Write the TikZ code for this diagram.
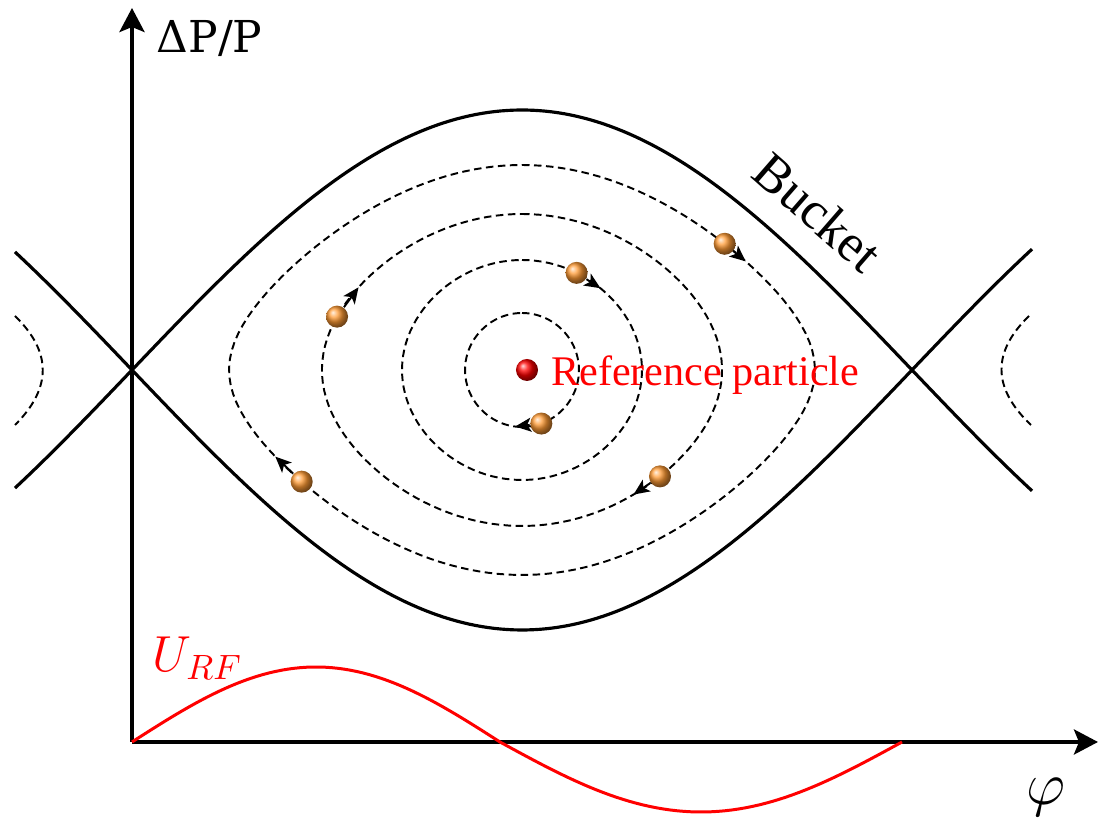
\documentclass[tikz,border=0pt]{standalone}
\usepackage{fontspec}
\setmainfont{Liberation Serif}
\newfontfamily\labelfont{DejaVu Serif}
\usetikzlibrary{arrows.meta,positioning}
\definecolor{beam}{HTML}{FF9B35}
\newcommand{\orbpt}[4]{\coordinate (#1) at ({522+4.3333*asin(#2*sin(#4))},{370-#3*cos(#4)});}

\begin{document}
\begin{tikzpicture}[
  x={(0.01cm,0)}, y={(0,-0.01cm)},
  axisline/.style={line width=1.1pt, -{Stealth[length=0.24cm,width=0.25cm,inset=0.05cm]}},
  separatrix/.style={line width=0.9pt},
  orbit/.style={line width=0.55pt, dash pattern=on 0.075cm off 0.045cm},
  flow/.style={line width=0.55pt, -{Stealth[length=0.16cm,width=0.14cm,inset=0.04cm]}},
  bunch/.style={circle, minimum size=0.22cm, inner sep=0pt, shading=ball, ball color=beam},
  rf/.style={red, line width=0.85pt}
]
\useasboundingbox (0,0) rectangle (1099,819);
\coordinate (O) at (132,742);
\coordinate (ytip) at (132,8);
\coordinate (xtip) at (1098,742);

\draw[separatrix] plot[domain=15:1032,samples=160] (\x,{370-260*cos(0.23077*(\x-522))});
\draw[separatrix] plot[domain=15:1032,samples=160] (\x,{370+260*cos(0.23077*(\x-522))});

\draw[orbit] plot[domain=0:360,samples=90] ({522+4.3333*asin(0.2275*sin(\x))},{370-57*cos(\x)}) -- cycle;
\draw[orbit] plot[domain=0:360,samples=110] ({522+4.3333*asin(0.4647*sin(\x))},{370-110*cos(\x)}) -- cycle;
\draw[orbit] plot[domain=0:360,samples=130] ({522+4.3333*asin(0.7214*sin(\x))},{370-156*cos(\x)}) -- cycle;
\draw[orbit] plot[domain=0:360,samples=150] ({522+4.3333*asin(0.9246*sin(\x))},{370-205*cos(\x)}) -- cycle;
\draw[orbit] (15,316) .. controls (52,352) and (52,388) .. (15,425);
\draw[orbit] (1029,316) .. controls (992,352) and (992,388) .. (1031,425);

\draw[axisline] (O) -- (ytip);
\draw[axisline] (O) -- (xtip);

\draw[rf] plot[domain=132:500,samples=60] (\x,{742-75*sin(0.48913*(\x-132))})
  -- plot[domain=500:902,samples=60] (\x,{742+70*sin(0.44776*(\x-500))});

\orbpt{p1}{0.7214}{156}{290} \orbpt{q1}{0.7214}{156}{302}
\orbpt{p2}{0.4647}{110}{28}  \orbpt{q2}{0.4647}{110}{42}
\orbpt{p3}{0.9246}{205}{52}  \orbpt{q3}{0.9246}{205}{58}
\orbpt{p4}{0.2275}{57}{160}  \orbpt{q4}{0.2275}{57}{187}
\orbpt{p5}{0.7214}{156}{133} \orbpt{q5}{0.7214}{156}{143}
\orbpt{p6}{0.9246}{205}{237} \orbpt{q6}{0.9246}{205}{245}

\node[bunch] (b1) at (p1) {};
\node[bunch] (b2) at (p2) {};
\node[bunch] (b3) at (p3) {};
\node[bunch] (b4) at (p4) {};
\node[bunch] (b5) at (p5) {};
\node[bunch] (b6) at (p6) {};
\draw[flow] (b1) -- (q1);
\draw[flow] (b2) -- (q2);
\draw[flow] (b3) -- (q3);
\draw[flow] (b4) -- (q4);
\draw[flow] (b5) -- (q5);
\draw[flow] (b6) -- (q6);

\node[bunch, ball color=red] (ref) at (527,370) {};
\node[right=0cm of ref, yshift=-0.05cm, text=red, font=\fontsize{12}{14}\selectfont] (reflbl) {Reference particle};

\node[rotate=-41, font=\fontsize{15}{18}\selectfont] (bkt) at (818,212) {Bucket};
\node[anchor=base west, inner sep=0pt, font=\labelfont\fontsize{12.5}{15}\selectfont] (ylab) at (156,53) {ΔP/P};
\node[anchor=base west, inner sep=0pt, text=red, font=\fontsize{14}{16}\selectfont] (urf) at (152,672) {$U_{RF}$};
\node[font=\fontsize{16}{19}\selectfont] (xlab) at (1046,797) {$\varphi$};
\end{tikzpicture}
\end{document}
